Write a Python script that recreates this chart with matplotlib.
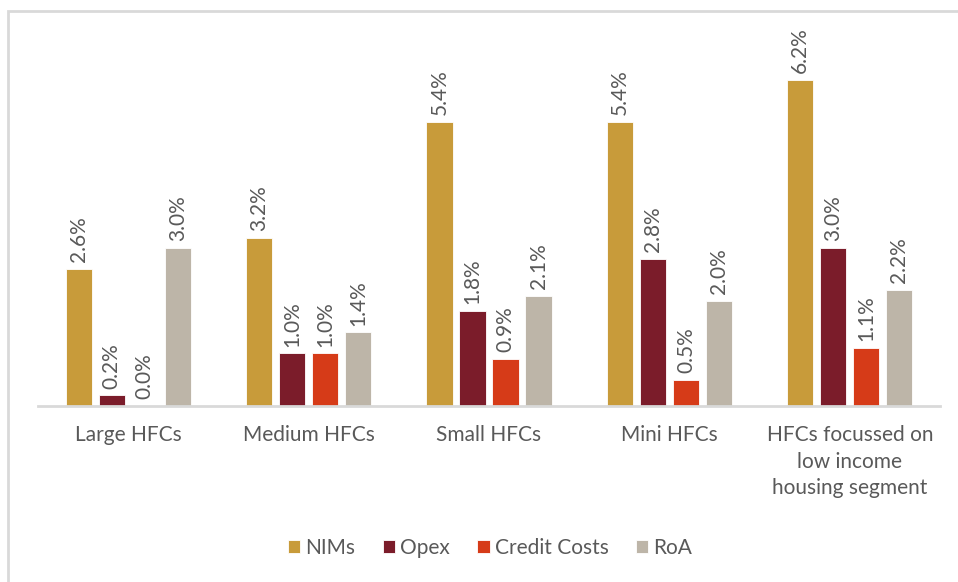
import numpy as np
import matplotlib.pyplot as plt
from matplotlib.patches import Rectangle

plt.rcParams["font.family"] = ["Lato", "DejaVu Sans"]

categories = ["Large HFCs", "Medium HFCs", "Small HFCs", "Mini HFCs",
              "HFCs focussed on\nlow income\nhousing segment"]
series = ["NIMs", "Opex", "Credit Costs", "RoA"]
nims = [2.6, 3.2, 5.4, 5.4, 6.2]
opex = [0.2, 1.0, 1.8, 2.8, 3.0]
credit_costs = [0.0, 1.0, 0.9, 0.5, 1.1]
roa = [3.0, 1.4, 2.1, 2.0, 2.2]
colors = ["#C89B3A", "#7B1C2A", "#D63B18", "#BDB5A8"]
TEXT = "#595959"

fig = plt.figure(figsize=(9.58, 5.82), dpi=100)
# chart frame (left and top edges visible)
fig.add_artist(Rectangle((8 / 958, -0.1), 1.2, 1.1 - 11 / 582,
                         transform=fig.transFigure, fill=False,
                         edgecolor="#d9d9d9", linewidth=2))
ax = fig.add_axes([38 / 958, 1 - 406 / 582, 902 / 958, 394 / 582])

x = np.arange(len(categories))
width = 0.145
step = 0.183
for i, (name, vals) in enumerate(zip(series, [nims, opex, credit_costs, roa])):
    pos = x + (i - 1.5) * step
    bars = ax.bar(pos, vals, width, color=colors[i], label=name,
                  edgecolor="white", linewidth=0.6)
    for b, v in zip(bars, vals):
        ax.annotate(f"{v:.1f}%", (b.get_x() + b.get_width() / 2, v),
                    xytext=(0, 5), textcoords="offset points",
                    rotation=90, ha="center", va="bottom",
                    fontsize=15, color=TEXT)

ax.set_xlim(-0.5, len(categories) - 0.5)
ax.set_ylim(0, 7.5)
ax.set_xticks(x)
ax.set_xticklabels(categories, fontsize=15, color=TEXT, linespacing=1.4)
ax.tick_params(axis="x", length=0, pad=14)
ax.set_yticks([])
for s in ["top", "right", "left"]:
    ax.spines[s].set_visible(False)
ax.spines["bottom"].set_color("#d9d9d9")
ax.spines["bottom"].set_linewidth(2)

leg = fig.legend(loc="center", bbox_to_anchor=(490 / 958, 1 - 548 / 582),
                 ncol=4, frameon=False, fontsize=15, handlelength=0.6,
                 handleheight=0.6, handletextpad=0.25, columnspacing=1.3)
for t in leg.get_texts():
    t.set_color(TEXT)

fig.savefig("out.png", dpi=100)
